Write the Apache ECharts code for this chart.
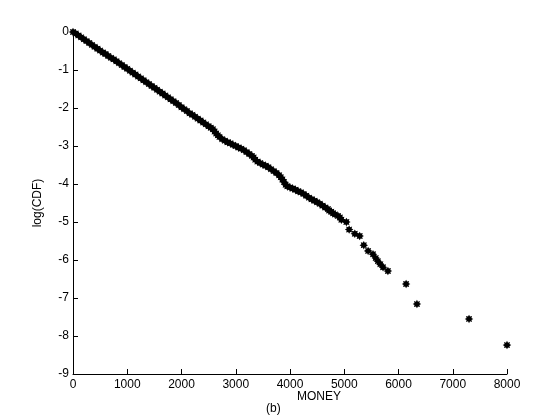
<!DOCTYPE html>
<html>
<head>
<meta charset="utf-8">
<script src="https://cdn.jsdelivr.net/npm/echarts@6/dist/echarts.min.js"></script>
<style>html,body{margin:0;padding:0;background:#fff}#c{width:560px;height:420px}</style>
</head>
<body>
<div id="c"></div>
<script>
var moneyX = [0,50,100,150,200,250,300,350,400,450,500,550,600,650,700,750,800,850,900,950,
  1000,1050,1100,1150,1200,1250,1300,1350,1400,1450,1500,1550,1600,1650,1700,1750,1800,1850,1900,1950,
  2000,2050,2100,2150,2200,2250,2300,2350,2400,2450,2500,2540,2580,2610,2640,2670,2700,2750,2800,2850,
  2900,2950,3000,3050,3100,3150,3200,3250,3300,3330,3360,3400,3450,3500,3550,3600,3650,3700,3750,3800,
  3830,3860,3890,3920,3950,4000,4050,4100,4150,4200,4250,4300,4350,4400,4450,4500,4550,4600,4650,4700,
  4720,4760,4793,4830,4885,4920,4947,5039,
  5090,5195,5285,5360,5440,5530,5580,5620,5665,5715,5805,6140,6340,7300,8000];
var logCDF = [0.00,-0.04,-0.09,-0.14,-0.19,-0.24,-0.29,-0.34,-0.39,-0.44,-0.49,-0.54,-0.58,-0.63,-0.68,-0.72,-0.77,-0.82,-0.87,-0.92,
  -0.97,-1.02,-1.07,-1.12,-1.17,-1.22,-1.27,-1.32,-1.37,-1.42,-1.47,-1.52,-1.57,-1.62,-1.67,-1.72,-1.77,-1.82,-1.87,-1.92,
  -1.98,-2.03,-2.08,-2.14,-2.18,-2.23,-2.28,-2.33,-2.38,-2.43,-2.48,-2.52,-2.56,-2.62,-2.67,-2.72,-2.76,-2.82,-2.86,-2.90,
  -2.93,-2.97,-3.00,-3.04,-3.07,-3.11,-3.16,-3.21,-3.26,-3.30,-3.36,-3.41,-3.45,-3.49,-3.52,-3.56,-3.61,-3.66,-3.71,-3.77,
  -3.82,-3.88,-3.95,-4.02,-4.06,-4.09,-4.12,-4.15,-4.19,-4.22,-4.26,-4.31,-4.36,-4.40,-4.44,-4.48,-4.52,-4.57,-4.62,-4.66,
  -4.70,-4.73,-4.77,-4.80,-4.84,-4.88,-4.94,-5.00,
  -5.20,-5.31,-5.37,-5.61,-5.76,-5.85,-5.95,-6.03,-6.11,-6.19,-6.29,-6.63,-7.16,-7.55,-8.24];
var xTicks = [0,1000,2000,3000,4000,5000,6000,7000,8000];
var yTicks = [0,-1,-2,-3,-4,-5,-6,-7,-8,-9];

var pts = moneyX.map(function(x,i){return [x, logCDF[i]];});

// asterisk-like star marker
var star = 'path://';
for (var i = 0; i < 16; i++) {
  var a = i * Math.PI / 8, r = (i % 2 === 0) ? 1 : 0.62;
  star += (i === 0 ? 'M' : 'L') + (r * Math.cos(a)).toFixed(3) + ' ' + (r * Math.sin(a)).toFixed(3) + ' ';
}
star += 'Z';

var font = '"Liberation Sans", Arial, sans-serif';
var chart = echarts.init(document.getElementById('c'), null, {renderer: 'canvas'});
chart.setOption({
  backgroundColor: '#ffffff',
  animation: false,
  grid: {left: 73, right: 53, top: 32, bottom: 46, containLabel: false},
  xAxis: {
    type: 'value', min: xTicks[0], max: xTicks[xTicks.length-1], interval: 1000,
    axisLine: {show: true, onZero: false, lineStyle: {color: '#000', width: 1}},
    axisTick: {show: true, inside: true, length: 5, lineStyle: {color: '#000'}},
    axisLabel: {color: '#000', fontSize: 12, fontFamily: font, margin: 5,
      formatter: function(v){ return String(v); }},
    splitLine: {show: false}
  },
  yAxis: {
    type: 'value', min: yTicks[yTicks.length-1], max: yTicks[0], interval: 1,
    name: 'log(CDF)', nameLocation: 'middle', nameGap: 29, nameRotate: 90,
    nameTextStyle: {color: '#000', fontSize: 12, fontFamily: font},
    axisLine: {show: true, onZero: false, lineStyle: {color: '#000', width: 1}},
    axisTick: {show: true, inside: true, length: 5, lineStyle: {color: '#000'}},
    axisLabel: {color: '#000', fontSize: 12, fontFamily: font, margin: 4,
      formatter: function(v){ return String(v); }},
    splitLine: {show: false}
  },
  graphic: [
    {type: 'text', left: 297, top: 391, style: {text: 'MONEY', fill: '#000', font: '12px ' + font}},
    {type: 'text', left: 266, top: 403, style: {text: '(b)', fill: '#000', font: '12px ' + font}}
  ],
  series: [{
    type: 'scatter', data: pts, symbol: star, symbolSize: 8.5,
    itemStyle: {color: '#000', opacity: 1}
  }]
});
</script>
</body>
</html>
